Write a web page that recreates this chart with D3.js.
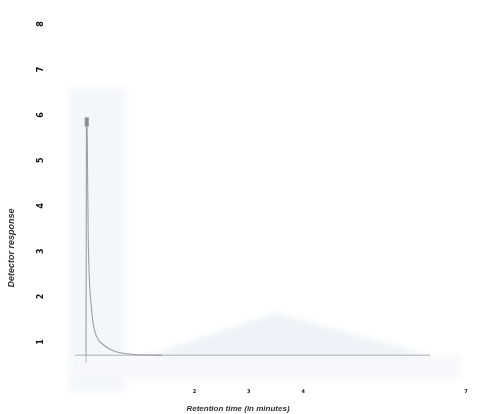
<!DOCTYPE html>
<html>
<head>
<meta charset="utf-8">
<script src="https://cdn.jsdelivr.net/npm/d3@7/dist/d3.min.js"></script>
<style>
  html, body { margin: 0; padding: 0; background: #fff; }
  svg { display: block; }
</style>
</head>
<body>
<script>
// Chromatogram: detector response against retention time (minutes)
const yTickValues = [1, 2, 3, 4, 5, 6, 7, 8];
const yTickLabels = ["1", "2", "3", "4", "5", "6", "7", "8"];
const xTickValues = [2, 3, 4, 7];
const xTickLabels = ["2", "3", "4", "7"];

// trace: [time in minutes, response]
const traceTime = [0, 0.004, 0.008, 0.014, 0.022, 0.03, 0.04, 0.055, 0.075, 0.1, 0.13, 0.17, 0.22, 0.31, 0.44, 0.57, 0.75, 0.94, 1.4];
const traceResp = [0.71, 3.0, 5.89, 5.9, 5.6, 4.6, 3.4, 2.6, 2.1, 1.75, 1.42, 1.2, 1.06, 0.95, 0.84, 0.78, 0.74, 0.72, 0.71];

const baselineLevel = 0.71;
const baselineStart = -0.2;
const baselineEnd = 6.34;

// faint shaded zones behind the trace
const bandTime = [-0.3, 0.72];
const bandResp = [-0.1, 6.6];
const humpTime = [1.15, 3.48, 6.34];
const humpResp = [0.71, 1.64, 0.71];
const floorTime = [-0.2, 6.9];
const floorResp = [0.2, 0.71];

const W = 491, H = 414;
const x = d3.scaleLinear().domain([0, 7]).range([86, 466]);
const y = d3.scaleLinear().domain([1, 8]).range([342, 24]);

const svg = d3.select("body").append("svg")
  .attr("width", W).attr("height", H)
  .attr("viewBox", `0 0 ${W} ${H}`);

const defs = svg.append("defs");
defs.append("filter").attr("id", "soft")
  .append("feGaussianBlur").attr("stdDeviation", 0.45);
defs.append("filter").attr("id", "haze")
  .append("feGaussianBlur").attr("stdDeviation", 3);

const g = svg.append("g").attr("filter", "url(#soft)");

// background zones
const shade = g.append("g").attr("filter", "url(#haze)");
shade.append("rect")
  .attr("x", x(bandTime[0])).attr("y", y(bandResp[1]))
  .attr("width", x(bandTime[1]) - x(bandTime[0]))
  .attr("height", y(bandResp[0]) - y(bandResp[1]))
  .attr("fill", "#f3f7fb");
shade.append("rect")
  .attr("x", x(floorTime[0])).attr("y", y(floorResp[1]))
  .attr("width", x(floorTime[1]) - x(floorTime[0]))
  .attr("height", y(floorResp[0]) - y(floorResp[1]))
  .attr("fill", "#f6f8fb");
shade.append("path")
  .attr("d", d3.line()(humpTime.map((t, i) => [x(t), y(humpResp[i])])) + "Z")
  .attr("fill", "#edf3f8");

// baseline and the short axis stub under the injection point
g.append("line")
  .attr("x1", x(baselineStart)).attr("x2", x(baselineEnd))
  .attr("y1", y(baselineLevel)).attr("y2", y(baselineLevel))
  .attr("stroke", "#a9b0b6").attr("stroke-width", 1);
g.append("line")
  .attr("x1", x(0)).attr("x2", x(0))
  .attr("y1", y(baselineLevel)).attr("y2", y(baselineLevel) + 8)
  .attr("stroke", "#b5b9bd").attr("stroke-width", 1);

// detector trace
const pts = traceTime.map((t, i) => [x(t), y(traceResp[i])]);
g.append("path")
  .attr("d", d3.line().curve(d3.curveMonotoneX)(pts))
  .attr("fill", "none")
  .attr("stroke", "#9aa0a6").attr("stroke-width", 1.1);

// peak apex marker
const apexI = d3.maxIndex(traceResp);
g.append("rect")
  .attr("x", x(traceTime[apexI]) - 2).attr("y", y(traceResp[apexI]) - 2)
  .attr("width", 4).attr("height", 9)
  .attr("fill", "#8a8f94");

// y ticks (rotated labels)
const yt = g.append("g");
yTickValues.forEach((v, i) => {
  yt.append("text")
    .attr("transform", `translate(40,${y(v)}) rotate(-90)`)
    .attr("text-anchor", "middle")
    .attr("dominant-baseline", "middle")
    .attr("font-family", "DejaVu Sans, sans-serif")
    .attr("font-weight", "bold")
    .attr("font-size", 8)
    .attr("fill", "#111")
    .text(yTickLabels[i]);
});

// x ticks
const xt = g.append("g");
xTickValues.forEach((v, i) => {
  xt.append("text")
    .attr("x", x(v)).attr("y", 393)
    .attr("text-anchor", "middle")
    .attr("font-family", "DejaVu Sans, sans-serif")
    .attr("font-weight", "bold")
    .attr("font-size", 5)
    .attr("fill", "#111")
    .text(xTickLabels[i]);
});

// axis titles
g.append("text")
  .attr("x", 238).attr("y", 411)
  .attr("text-anchor", "middle")
  .attr("font-family", "Liberation Sans, Arial, sans-serif")
  .attr("font-style", "italic")
  .attr("font-weight", "bold")
  .attr("font-size", 8)
  .attr("fill", "#333")
  .text("Retention time (in minutes)");

g.append("text")
  .attr("transform", "translate(14,248) rotate(-90)")
  .attr("text-anchor", "middle")
  .attr("font-family", "Liberation Sans, Arial, sans-serif")
  .attr("font-style", "italic")
  .attr("font-weight", "bold")
  .attr("font-size", 9)
  .attr("fill", "#333")
  .text("Detector response");
</script>
</body>
</html>
